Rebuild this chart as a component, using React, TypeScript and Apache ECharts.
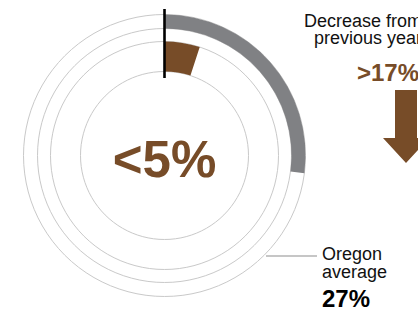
import React, { useEffect, useRef } from "react";
import * as echarts from "echarts";

// Data
const categories = ["This area", "Oregon average"];
const values = [5, 27]; // percent
const valueLabels = ["<5%", "27%"];
const changeLines = ["Decrease from", "previous year"];
const changeValue = [">17%"];
const averageLines = ["Oregon", "average"];

const BROWN = "#774c28";
const GRAY = "#808184";
const THIN = "#c9c9c9";
const FONT = "'Liberation Sans', Arial, Helvetica, sans-serif";

export default function App() {
  const ref = useRef<HTMLDivElement>(null);
  useEffect(() => {
    document.body.style.margin = "0";
    const chart = echarts.init(ref.current!, undefined, { renderer: "svg" });
    const cx = 164.5;
    const cy = 155.5;
    const ringSeries = (name: string, value: number, inner: number, outer: number, color: string) => ({
      type: "pie",
      name,
      center: [cx, cy],
      radius: [inner, outer],
      startAngle: 90,
      clockwise: true,
      silent: true,
      label: { show: false },
      labelLine: { show: false },
      emphasis: { disabled: true },
      itemStyle: { borderWidth: 0 },
      data: [
        { name, value, itemStyle: { color } },
        { name: "rest", value: 100 - value, itemStyle: { color: "rgba(0,0,0,0)" } },
      ],
    });
    const thin = [141, 127, 114, 84].map((r) => ({
      type: "circle",
      z: 0,
      shape: { cx, cy, r },
      style: { fill: "none", stroke: THIN, lineWidth: 1 },
    }));
    chart.setOption({
      animation: false,
      series: [
        ringSeries(categories[1], values[1], 127, 141, GRAY),
        ringSeries(categories[0], values[0], 84, 114, BROWN),
      ],
      graphic: [
        ...thin,
        {
          type: "line",
          z: 10,
          shape: { x1: cx, y1: 9, x2: cx, y2: 78 },
          style: { stroke: "#000", lineWidth: 2.6 },
        },
        {
          type: "text",
          z: 10,
          x: cx,
          y: 159.5,
          style: {
            text: valueLabels[0],
            fill: BROWN,
            font: `bold 51px ${FONT}`,
            align: "center",
            verticalAlign: "middle",
          },
        },
        {
          type: "text",
          z: 10,
          x: 422,
          y: 29.5,
          style: {
            text: changeLines.join("\n"),
            fill: "#111",
            font: `18px ${FONT}`,
            lineHeight: 17,
            align: "right",
            verticalAlign: "middle",
          },
        },
        {
          type: "text",
          z: 10,
          x: 357,
          y: 72,
          style: { text: changeValue[0], fill: BROWN, font: `bold 24px ${FONT}`, align: "left", verticalAlign: "middle" },
        },
        {
          type: "polygon",
          z: 10,
          shape: {
            points: [
              [395, 90],
              [417, 90],
              [417, 138],
              [429, 138],
              [406, 163],
              [383, 138],
              [395, 138],
            ],
          },
          style: { fill: BROWN },
        },
        {
          type: "line",
          z: 10,
          shape: { x1: 266, y1: 256, x2: 317, y2: 256 },
          style: { stroke: "#b3b3b3", lineWidth: 1.5 },
        },
        {
          type: "text",
          z: 10,
          x: 322,
          y: 263,
          style: {
            text: averageLines.join("\n"),
            fill: "#111",
            font: `18px ${FONT}`,
            lineHeight: 18,
            align: "left",
            verticalAlign: "middle",
          },
        },
        {
          type: "text",
          z: 10,
          x: 322,
          y: 298.5,
          style: { text: valueLabels[1], fill: "#000", font: `bold 24px ${FONT}`, align: "left", verticalAlign: "middle" },
        },
      ],
    });
    return () => chart.dispose();
  }, []);
  return <div ref={ref} style={{ width: 418, height: 311 }} />;
}
